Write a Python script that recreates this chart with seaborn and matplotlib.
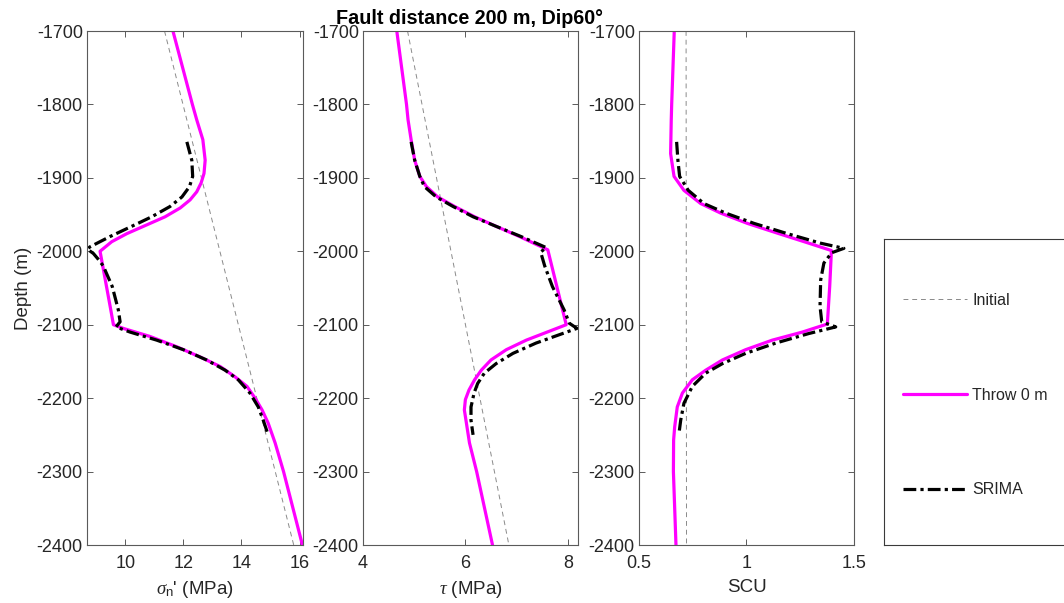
import numpy as np
import pandas as pd
import matplotlib
matplotlib.use("Agg")
import matplotlib.pyplot as plt
from matplotlib.lines import Line2D
import seaborn as sns

# ---- data -------------------------------------------------------------
title = "Fault distance 200 m, Dip60\u00b0"
series_names = ["Initial", "Throw 0 m", "SRIMA"]
x_labels = [r"$\sigma_{\mathrm{n}}$' (MPa)", r"$\tau$ (MPa)", "SCU"]
y_label = "Depth (m)"
y_ticks = [-1700, -1800, -1900, -2000, -2100, -2200, -2300, -2400]

# initial (pre-production) state, linear with depth
depth_init = [-1700, -2400]
sn_init = [11.35, 15.8]
tau_init = [4.87, 6.85]
scu_init = [0.719, 0.721]

# throw 0 m: effective normal stress
depth_sn_throw = [-1700, -1800, -1821, -1848, -1876, -1894, -1907, -1919, -1930,
                  -1941, -1953, -1964, -1976, -1987, -2000, -2080, -2100, -2105,
                  -2116, -2130, -2144, -2157, -2171, -2184, -2200, -2216, -2234,
                  -2261, -2300, -2400]
sn_throw = [11.64, 12.31, 12.46, 12.67, 12.75, 12.71, 12.61, 12.46, 12.23,
            11.89, 11.37, 10.74, 10.05, 9.53, 9.13, 9.5, 9.59, 9.93,
            10.85, 11.77, 12.58, 13.27, 13.78, 14.19, 14.47, 14.71, 14.92,
            15.16, 15.45, 16.1]

# throw 0 m: shear stress
depth_tau_throw = [-1700, -1800, -1821, -1848, -1876, -1898, -1912, -1926, -1939,
                   -1953, -1966, -1980, -1998, -2100, -2107, -2121, -2134, -2148,
                   -2162, -2175, -2189, -2202, -2216, -2234, -2261, -2300, -2400]
tau_throw = [4.66, 4.85, 4.88, 4.94, 5.01, 5.11, 5.24, 5.46, 5.79,
             6.18, 6.6, 7.06, 7.61, 7.97, 7.71, 7.19, 6.8, 6.5,
             6.31, 6.18, 6.07, 6.0, 5.98, 6.02, 6.08, 6.22, 6.53]

# throw 0 m: shear capacity utilisation
depth_scu_throw = [-1700, -1800, -1821, -1867, -1898, -1917, -1935, -1948, -1962,
                   -1976, -1989, -1999, -2048, -2099, -2110, -2121, -2134, -2148,
                   -2162, -2175, -2193, -2212, -2239, -2257, -2300, -2400]
scu_throw = [0.664, 0.652, 0.65, 0.647, 0.663, 0.709, 0.787, 0.88, 1.004,
             1.151, 1.29, 1.395, 1.387, 1.376, 1.26, 1.12, 0.996, 0.888,
             0.81, 0.748, 0.702, 0.678, 0.666, 0.661, 0.66, 0.672]

# SRIMA: effective normal stress
depth_sn_srima = [-1851, -1876, -1898, -1912, -1926, -1939, -1953, -1966, -1980,
                  -1994, -1997, -2003, -2010, -2020, -2048, -2080, -2096, -2103,
                  -2110, -2121, -2134, -2148, -2162, -2175, -2193, -2212, -2230,
                  -2250]
sn_srima = [12.12, 12.29, 12.32, 12.21, 11.95, 11.54, 10.91, 10.22, 9.47,
            8.78, 8.69, 8.9, 9.05, 9.24, 9.55, 9.76, 9.82, 9.68,
            10.16, 11.08, 12.0, 12.8, 13.44, 13.89, 14.29, 14.58, 14.75,
            14.92]

# SRIMA: shear stress
depth_tau_srima = [-1851, -1876, -1898, -1912, -1926, -1939, -1953, -1966, -1980,
                   -1995, -2001, -2020, -2048, -2080, -2098, -2105, -2112, -2125,
                   -2139, -2153, -2166, -2180, -2193, -2212, -2230, -2250]
tau_srima = [4.94, 5.01, 5.11, 5.2, 5.43, 5.76, 6.15, 6.6, 7.09,
             7.58, 7.47, 7.55, 7.7, 7.93, 8.03, 8.18, 7.9, 7.38,
             6.93, 6.6, 6.37, 6.24, 6.17, 6.11, 6.11, 6.15]

# SRIMA: shear capacity utilisation
depth_scu_srima = [-1851, -1876, -1898, -1917, -1935, -1948, -1962, -1976, -1989,
                   -1996, -2002, -2016, -2039, -2075, -2096, -2103, -2112, -2125,
                   -2139, -2153, -2166, -2184, -2207, -2230, -2248]
scu_srima = [0.675, 0.681, 0.689, 0.729, 0.802, 0.903, 1.035, 1.19, 1.345,
             1.453, 1.396, 1.36, 1.345, 1.342, 1.35, 1.415, 1.29, 1.136,
             0.996, 0.888, 0.81, 0.748, 0.709, 0.694, 0.686]

# ---- styles -----------------------------------------------------------
sns.set_theme(style="ticks")
plt.rcParams["font.family"] = ["Liberation Sans", "DejaVu Sans"]
plt.rcParams["mathtext.fontset"] = "custom"
plt.rcParams["mathtext.it"] = "Liberation Serif:italic"
plt.rcParams["mathtext.rm"] = "Liberation Sans"

TEXT = "#262626"
SPINE = "#5a5a5a"
styles = {
    "Initial": dict(color="#8a8a8a", lw=0.7, ls=(0, (5, 4))),
    "Throw 0 m": dict(color="#ff00ff", lw=2.3, ls="-"),
    "SRIMA": dict(color="black", lw=2.3, ls=(0, (4, 1.3, 1, 1.3))),
}

fig = plt.figure(figsize=(10.64, 6.03), dpi=100)
W, H = 1064, 603
panel_px = [(87, 303), (363, 578), (639, 854)]
top_px, bot_px = 31, 545

panels = [
    ([(sn_init, depth_init), (sn_throw, depth_sn_throw), (sn_srima, depth_sn_srima)],
     (8.68, 16.12), [10, 12, 14, 16], ["10", "12", "14", "16"]),
    ([(tau_init, depth_init), (tau_throw, depth_tau_throw), (tau_srima, depth_tau_srima)],
     (4, 8.2), [4, 6, 8], ["4", "6", "8"]),
    ([(scu_init, depth_init), (scu_throw, depth_scu_throw), (scu_srima, depth_scu_srima)],
     (0.5, 1.5), [0.5, 1.0, 1.5], ["0.5", "1", "1.5"]),
]

axes = []
for i, ((l, r), (curves, xlim, xticks, xtl)) in enumerate(zip(panel_px, panels)):
    ax = fig.add_axes([l / W, 1 - bot_px / H, (r - l) / W, (bot_px - top_px) / H])
    for name, (xv, dv) in zip(series_names, curves):
        st = styles[name]
        df = pd.DataFrame({"x": xv, "depth": dv})
        sns.lineplot(data=df, x="x", y="depth", sort=False, estimator=None,
                     ax=ax, color=st["color"], linewidth=st["lw"],
                     linestyle=st["ls"], legend=False)
    ax.set_xlim(*xlim)
    ax.set_ylim(-2400, -1700)
    ax.set_xticks(xticks)
    ax.set_xticklabels(xtl)
    ax.set_yticks(y_ticks)
    ax.set_yticklabels([str(v) for v in y_ticks])
    ax.tick_params(axis="both", which="major", direction="in", length=4,
                   width=0.7, color=SPINE, labelsize=13, labelcolor=TEXT,
                   top=True, right=True)
    ax.tick_params(axis="y", pad=3)
    ax.tick_params(axis="x", pad=7)
    for sp in ax.spines.values():
        sp.set_visible(True)
        sp.set_color(SPINE)
        sp.set_linewidth(0.8)
    ax.set_xlabel(x_labels[i], fontsize=13.5, color=TEXT, labelpad=5)
    ax.set_ylabel("")
    axes.append(ax)

axes[0].set_ylabel(y_label, fontsize=13.5, color=TEXT, labelpad=3)

fig.text(470 / W, 1 - 18.5 / H, title, ha="center", va="center",
         fontsize=14.2, fontweight="bold", color="black")

# legend panel
lax = fig.add_axes([884 / W, 1 - 545 / H, 190 / W, (545 - 239) / H])
lax.set_xticks([])
lax.set_yticks([])
for sp in lax.spines.values():
    sp.set_color("#3a3a3a")
    sp.set_linewidth(0.8)
handles = [Line2D([], [], color=styles[n]["color"], lw=styles[n]["lw"],
                  ls=styles[n]["ls"]) for n in series_names]
lax.legend(handles, series_names, loc="center left",
           bbox_to_anchor=(19 / 190, 0.49), frameon=False, fontsize=11.5,
           labelspacing=4.98, handlelength=4.0, handletextpad=0.35,
           borderpad=0, borderaxespad=0, labelcolor=TEXT)

fig.savefig("out.png", dpi=100)
